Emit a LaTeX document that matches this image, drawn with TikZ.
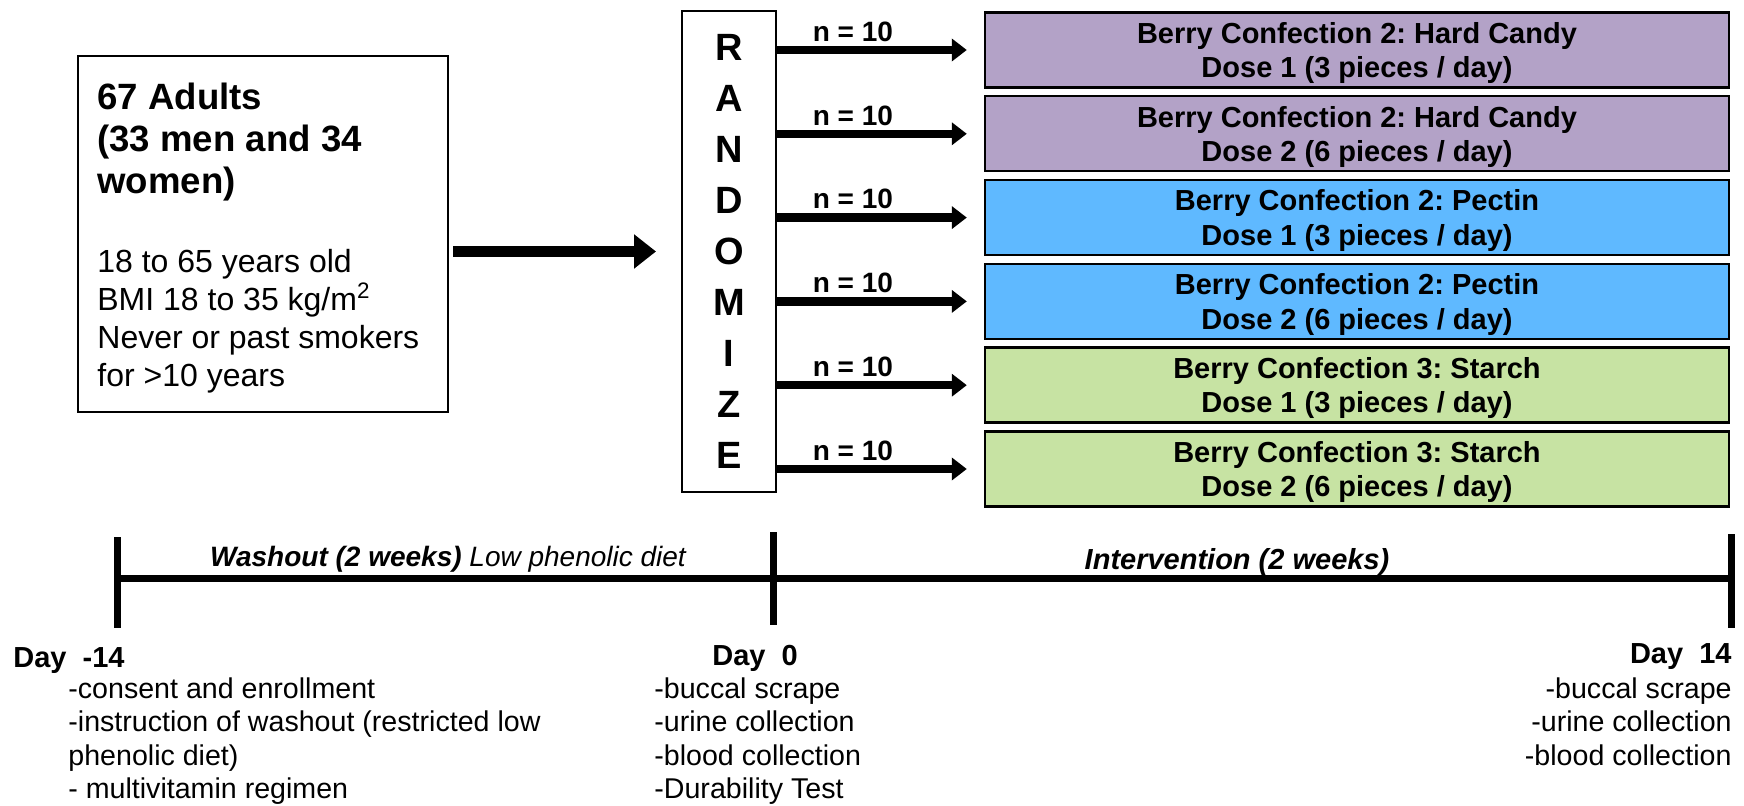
\documentclass[tikz,border=0pt]{standalone}
\usepackage{fontspec}
\setmainfont{Liberation Sans}
\usetikzlibrary{arrows.meta}
\definecolor{candy}{HTML}{B3A2C7}
\definecolor{pectin}{HTML}{5FB9FF}
\definecolor{starch}{HTML}{C7E3A3}
\frenchspacing

\begin{document}
\begin{tikzpicture}[x=1pt, y=-1pt,
	plainbox/.style={draw=black, line width=1pt, inner sep=0pt},
	armbox/.style={draw=black, line width=1.2pt, minimum width=372pt, minimum height=37.5pt,
		inner sep=0pt, text depth=0pt, align=center, font=\fontsize{14.5}{17.2}\selectfont\bfseries},
	fatarrow/.style={line width=5.5pt, -{Triangle[length=11pt, width=16.5pt]}},
	armarrow/.style={line width=4.2pt, -{Triangle[length=7.5pt, width=11pt]}},
	nlabel/.style={anchor=south, inner sep=0pt, yshift=2.1pt, font=\fontsize{14}{16}\selectfont\bfseries},
	timeline/.style={line width=3.5pt},
	daytext/.style={inner sep=0pt, font=\fontsize{14.3}{16.8}\selectfont},
	dayhead/.style={inner sep=0pt, font=\fontsize{14.5}{17}\selectfont\bfseries}]
		%%%%% START %%%%%
		\useasboundingbox (0,0) rectangle (872,403);
		
		\node[plainbox, minimum width=185pt, minimum height=178pt] (adults) at (131.5,117) {};
		\node[anchor=north west, inner sep=0pt, align=left, font=\fontsize{18.3}{21}\selectfont\bfseries]
			(adultshead) at (48.5,41.5) {67 Adults\\(33 men and 34\\women)};
		\node[anchor=north west, inner sep=0pt, align=left, font=\fontsize{16}{19}\selectfont]
			(adultsbody) at (48.5,124.5) {18 to 65 years old\\BMI 18 to 35 kg/m\textsuperscript{2}\\Never or past smokers\\for >10 years};
		
		\node[plainbox, minimum width=47pt, minimum height=240.5pt, align=center,
			font=\fontsize{19}{25.5}\selectfont\bfseries] (rand) at (364.5,125.75)
			{R\\A\\N\\D\\O\\M\\I\\Z\\E};
		
		\draw[fatarrow] ([xshift=2pt]adults.east |- rand.west) -- ([xshift=-12.5pt]rand.west);
		
		\foreach \name/\col/\conf/\dose [count=\i from 0] in {
			hc1/candy/{Berry Confection 2: Hard Candy}/{Dose 1 (3 pieces / day)},
			hc2/candy/{Berry Confection 2: Hard Candy}/{Dose 2 (6 pieces / day)},
			pe1/pectin/{Berry Confection 2: Pectin}/{Dose 1 (3 pieces / day)},
			pe2/pectin/{Berry Confection 2: Pectin}/{Dose 2 (6 pieces / day)},
			st1/starch/{Berry Confection 3: Starch}/{Dose 1 (3 pieces / day)},
			st2/starch/{Berry Confection 3: Starch}/{Dose 2 (6 pieces / day)}}{
			\node[armbox, fill=\col] (\name) at (678.5,{25+41.9*\i}) {\conf\\\dose};
			\draw[armarrow] (rand.east |- \name.west) -- ([xshift=-8.5pt]\name.west)
				node[nlabel, pos=0.4] {n = 10};
		}
		
		% time line
		\coordinate (start) at (58.5,289);
		\coordinate (day0) at (386.5,289);
		\coordinate (stop) at (865.5,289);
		\draw[timeline] (start) -- (stop);
		\draw[timeline] (start) ++(0,-20.5) -- ++(0,45.5);
		\draw[timeline] (day0) ++(0,-23) -- ++(0,46.5);
		\draw[timeline] (stop) ++(0,-22) -- ++(0,47);
		
		\node[anchor=base, inner sep=0pt, font=\fontsize{14}{16}\selectfont\itshape] (washout) at (224,283)
			{\bfseries Washout (2 weeks)\mdseries{} Low phenolic diet};
		\node[anchor=base, inner sep=0pt, font=\fontsize{14.5}{17}\selectfont\bfseries\itshape] (interv) at (618.5,284.5)
			{Intervention (2 weeks)};
		
		\node[dayhead, anchor=base west] (dstart) at (6.5,333.5) {Day\ \ -14};
		\node[daytext, anchor=north west, align=left] (lstart) at (34,338.5)
			{-consent and enrollment\\-instruction of washout (restricted low\\phenolic diet)\\- multivitamin regimen};
		
		\node[dayhead, anchor=base west] (dzero) at (356,332.5) {Day\ \ 0};
		\node[daytext, anchor=north west, align=left] (lzero) at (327,338.5)
			{-buccal scrape\\-urine collection\\-blood collection\\-Durability Test};
		
		\node[dayhead, anchor=base east] (dend) at (866,331.5) {Day\ \ 14};
		\node[daytext, anchor=north east, align=right] (lend) at (866,338.5)
			{-buccal scrape\\-urine collection\\-blood collection};
		%%%%% END %%%%%
\end{tikzpicture}
\end{document}
